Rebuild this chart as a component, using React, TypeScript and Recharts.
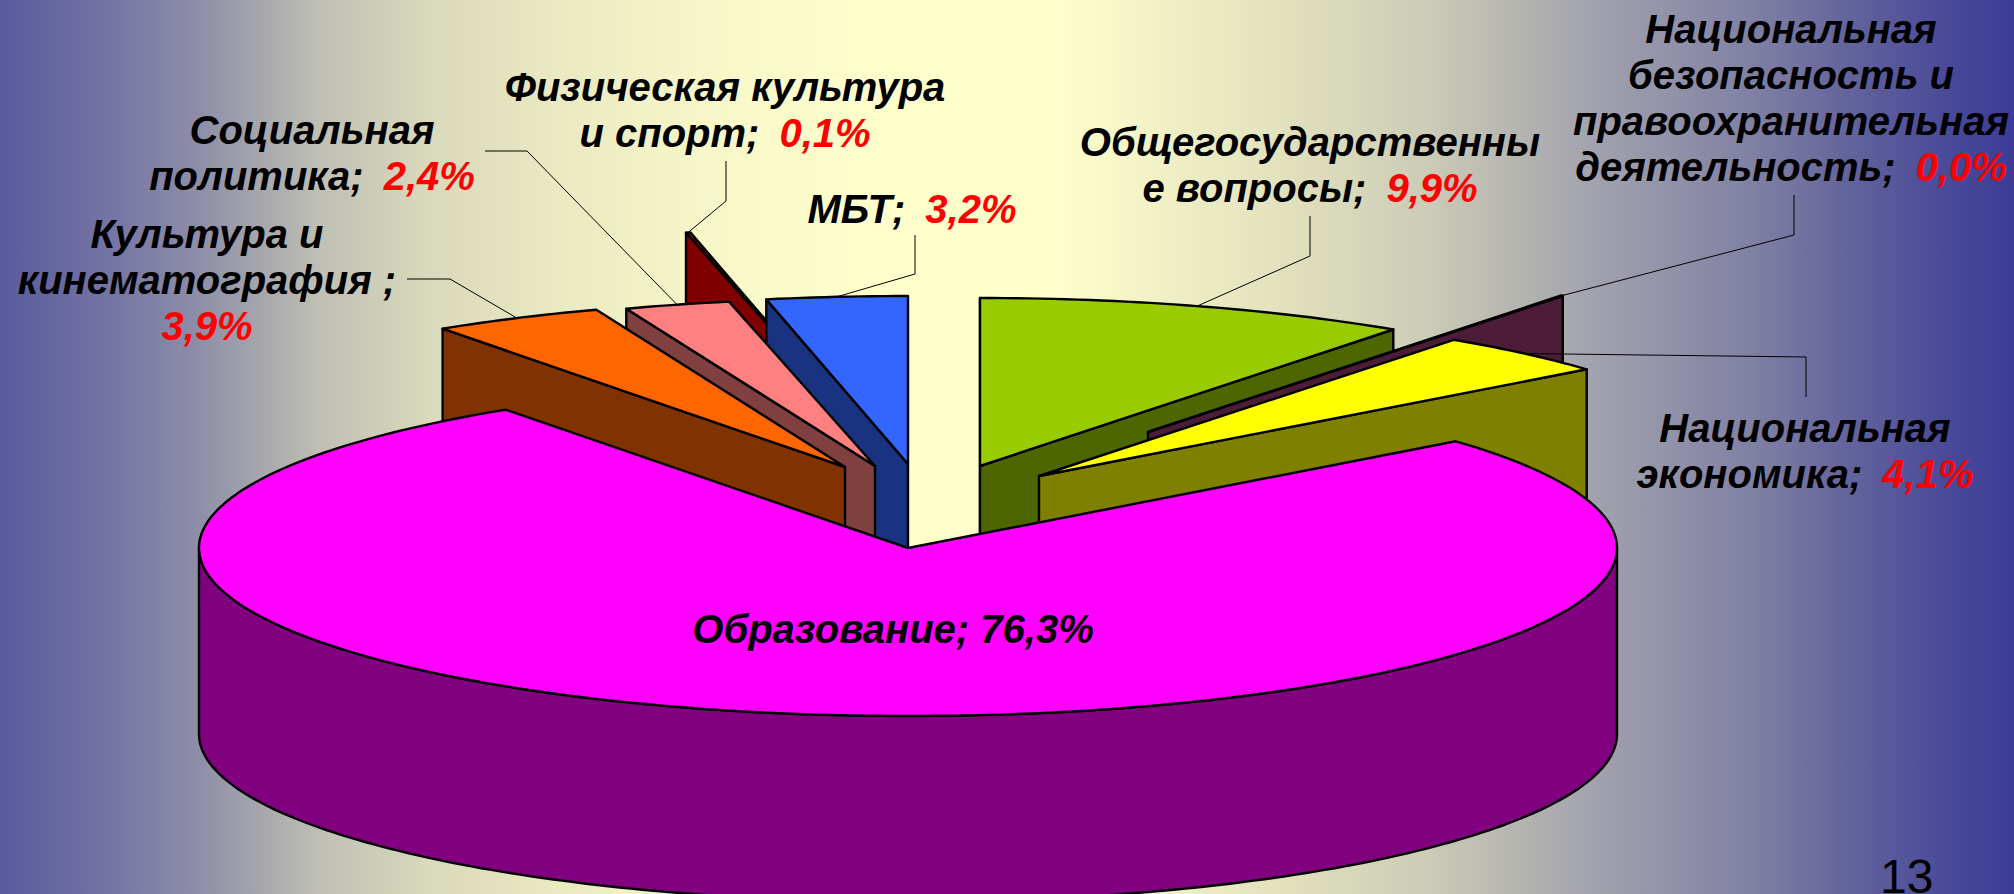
import { Pie, PieChart } from 'recharts';

const categories = [
  'Культура и кинематография',
  'Социальная политика',
  'Физическая культура и спорт',
  'МБТ',
  'Общегосударственные вопросы',
  'Национальная безопасность и правоохранительная деятельность',
  'Национальная экономика',
  'Образование',
];
const shares = [3.9, 2.4, 0.1, 3.2, 9.9, 0.04, 4.1, 76.3];

// wrapped the way the original slide wraps them
const labelLines = [
  ['Культура и', 'кинематография ;'],
  ['Социальная', 'политика;'],
  ['Физическая культура', 'и спорт;'],
  ['МБТ;'],
  ['Общегосударственны', 'е вопросы;'],
  ['Национальная', 'безопасность и', 'правоохранительная', 'деятельность;'],
  ['Национальная', 'экономика;'],
  ['Образование;'],
];

const topColors = ['#ff6600', '#ff8080', '#800000', '#3366ff', '#99cc00', '#4c1c38', '#ffff00', '#ff00ff'];
const wallColors = ['#803300', '#804040', '#800000', '#1a3380', '#4d6600', '#4c1c38', '#808000', '#800080'];

// how far each slice is pulled out of the pie
const explode = [[-63, -81], [-33, -82], [-76, -151], [0, -84], [72, -82], [240, -116], [131, -72], [0, 0]];

// back to front
const paintOrder = [2, 3, 1, 0, 4, 5, 6, 7];

const labelAnchors = [
  { x: 207, y: 248, percentLine: true, elbow: [[407, 279], [450, 279]] },
  { x: 312, y: 144, elbow: [[485, 151], [527, 151]] },
  { x: 725, y: 101, elbow: [[726, 161], [726, 201]] },
  { x: 912, y: 223, elbow: [[915, 235], [915, 274]] },
  { x: 1310, y: 156, elbow: [[1310, 216], [1310, 256]] },
  { x: 1791, y: 43, elbow: [[1794, 195], [1794, 235]] },
  { x: 1805, y: 442, elbow: [[1806, 397], [1806, 357]] },
  { x: 893, y: 643, blackPercent: true, elbow: [] },
];

const backdrop =
  'linear-gradient(to right, #5a5a9e 0px, #7272a4 100px, #8e8ea8 200px, #a2a2ac 250px, #bfbfb4 320px, #d8d8bb 421px, ' +
  '#eaeac3 561px, #f6f6c8 700px, #ffffcc 877px, #ffffcc 1050px, #ededc4 1190px, #dedebc 1306px, #cdcdb8 1421px, ' +
  '#babab2 1498px, #a3a3ae 1590px, #8080a4 1753px, #62629c 1853px, #484898 1953px, #3c3c98 2014px)';

const CX = 908;
const CY = 548;
const RX = 709;
const SQUASH = 168 / 709;
const DEPTH = 186;

const total = shares.reduce((a, b) => a + b, 0);
const START = 90 + (360 * shares.slice(0, 4).reduce((a, b) => a + b, 0)) / total;
const rows = categories.map((name, i) => ({ name, value: shares[i], idx: i }));

const RAD = Math.PI / 180;
const pct = (v: number) => v.toFixed(1).replace('.', ',') + '%';

function project(idx: number, cx: number, cy: number, r: number, deg: number) {
  const [dx, dy] = explode[idx];
  return [cx + dx + r * Math.cos(deg * RAD), cy + dy - r * SQUASH * Math.sin(deg * RAD)];
}

const toPath = (pts: number[][], close = true) =>
  pts.map((p, i) => `${i ? 'L' : 'M'}${p[0].toFixed(1)},${p[1].toFixed(1)}`).join(' ') + (close ? ' Z' : '');

function arcPoints(idx: number, cx: number, cy: number, r: number, from: number, to: number) {
  const n = Math.max(1, Math.ceil(Math.abs(from - to)));
  const pts = [];
  for (let i = 0; i <= n; i++) pts.push(project(idx, cx, cy, r, from + ((to - from) * i) / n));
  return pts;
}

function Slice({ idx, cx, cy, outerRadius, startAngle, endAngle }: any) {
  const apex = project(idx, cx, cy, 0, 0);
  const a = project(idx, cx, cy, outerRadius, startAngle);
  const b = project(idx, cx, cy, outerRadius, endAngle);
  const drop = (p: number[]) => [p[0], p[1] + DEPTH];
  const wallProps = { fill: wallColors[idx], stroke: '#000', strokeWidth: 2.4, strokeLinejoin: 'round' as const };

  const walls = [];
  if (Math.cos(startAngle * RAD) < 0) walls.push(toPath([apex, a, drop(a), drop(apex)]));
  if (Math.cos(endAngle * RAD) > 0) walls.push(toPath([apex, b, drop(b), drop(apex)]));
  const lo = Math.max(endAngle, -180);
  const hi = Math.min(startAngle, 0);
  if (lo < hi) {
    const rim = arcPoints(idx, cx, cy, outerRadius, hi, lo);
    walls.push(toPath([...rim, ...rim.map(drop).reverse()]));
  }

  const top = toPath([apex, ...arcPoints(idx, cx, cy, outerRadius, startAngle, endAngle)]);
  return (
    <g>
      {walls.map((d) => (
        <path key={d} d={d} {...wallProps} />
      ))}
      <path d={top} fill={topColors[idx]} stroke="#000" strokeWidth={2.4} strokeLinejoin="round" />
    </g>
  );
}

function SliceLabel({ index, cx, cy, outerRadius, midAngle }: any) {
  const spot = labelAnchors[index];
  const lines = labelLines[index];
  const percent = pct(shares[index]);
  const tip = project(index, cx, cy, outerRadius, midAngle);
  const percentFill = spot.blackPercent ? '#000' : '#ff0000';
  return (
    <g>
      {spot.elbow.length > 0 && (
        <path d={toPath([...spot.elbow, tip], false)} fill="none" stroke="#000" strokeWidth={1} />
      )}
      <text
        x={spot.x}
        y={spot.y}
        textAnchor="middle"
        fontFamily="'Liberation Sans', Arial, sans-serif"
        fontWeight="bold"
        fontStyle="italic"
        fontSize={40}
        fill="#000"
      >
        {lines.map((line, i) => {
          const last = i === lines.length - 1;
          return (
            <tspan key={line} x={spot.x} dy={i ? 46 : 0}>
              {line}
              {last && !spot.percentLine && (
                <tspan fill={percentFill}>{(spot.blackPercent ? ' ' : '\u2002') + percent}</tspan>
              )}
            </tspan>
          );
        })}
        {spot.percentLine && (
          <tspan x={spot.x} dy={46} fill={percentFill}>
            {percent}
          </tspan>
        )}
      </text>
    </g>
  );
}

export default function App() {
  return (
    <div
      style={{
        position: 'absolute',
        left: 0,
        top: 0,
        width: 2014,
        height: 894,
        overflow: 'hidden',
        background: backdrop,
      }}
    >
      <PieChart width={2014} height={894} margin={{ top: 0, right: 0, bottom: 0, left: 0 }}>
        {paintOrder.map((idx) => (
          <Pie
            key={idx}
            data={rows}
            dataKey="value"
            nameKey="name"
            cx={CX}
            cy={CY}
            innerRadius={0}
            outerRadius={RX}
            startAngle={START}
            endAngle={START - 360}
            paddingAngle={0}
            stroke="none"
            isAnimationActive={false}
            labelLine={false}
            label={idx === 7 ? (p: any) => <SliceLabel {...p} /> : false}
            shape={(p: any) => (p.idx === idx ? <Slice {...p} /> : <g />)}
          />
        ))}
      </PieChart>
      <div
        style={{
          position: 'absolute',
          left: 1880,
          top: 849,
          fontFamily: "'Liberation Sans', Arial, sans-serif",
          fontSize: 48,
          lineHeight: '55px',
          color: '#000',
        }}
      >
        13
      </div>
    </div>
  );
}
